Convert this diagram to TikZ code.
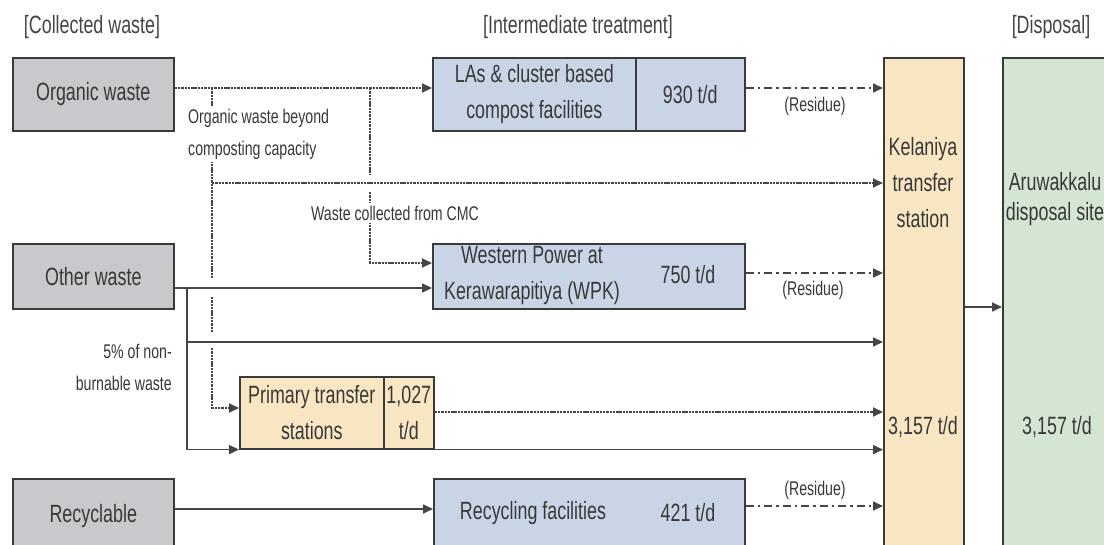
\documentclass[tikz,border=0pt]{standalone}
\usepackage{fontspec}
\setmainfont{Liberation Sans}[FakeStretch=0.715]
\usetikzlibrary{arrows.meta,calc}

\definecolor{ink}{HTML}{383838}
\definecolor{headink}{HTML}{444444}
\definecolor{edge}{HTML}{3A3A3A}
\definecolor{wire}{HTML}{454545}
\definecolor{grayfill}{HTML}{C8C9CC}
\definecolor{bluefill}{HTML}{C9D5E7}
\definecolor{sandfill}{HTML}{F9E7C4}
\definecolor{mintfill}{HTML}{D5E5D3}

\newcommand\bigtxt{\fontsize{25}{36}\selectfont}
\newcommand\smalltxt{\fontsize{19.8}{32}\selectfont}

\begin{document}
\begin{tikzpicture}[x=1pt,y=-1pt,
  box/.style={draw=edge, line width=1.6pt, inner sep=0pt, anchor=north west,
              font=\bigtxt, text=ink, align=center},
  wastebox/.style={box, fill=grayfill},
  treatbox/.style={box, fill=bluefill},
  stationbox/.style={box, fill=sandfill},
  sitebox/.style={box, fill=mintfill},
  boxtext/.style={font=\bigtxt, text=ink, align=center, inner sep=0pt},
  heading/.style={font=\bigtxt, text=headink, inner sep=0pt},
  note/.style={font=\smalltxt, text=ink, inner sep=3pt},
  tip/.style={-{Triangle[length=10pt,width=9pt]}},
  flow/.style={draw=wire, line width=1.7pt},
  fine/.style={flow, line width=1.8pt, dash pattern=on 2.4pt off 0.9pt},
  residue/.style={flow, dash pattern=on 8pt off 4pt on 2.5pt off 4pt},
]
\clip (0,0) rectangle (1104,545);

% column headings
\node[heading] (hCollected) at (92,27) {[Collected waste]};
\node[heading] (hInter) at (578,27) {[Intermediate treatment]};
\node[heading] (hDisp) at (1051,27) {[Disposal]};

% collected waste
\node[wastebox, minimum width=161pt, minimum height=73pt] (organic) at (12,57) {Organic waste};
\node[wastebox, minimum width=161pt, minimum height=65pt] (other) at (12,243) {Other waste};
\node[wastebox, minimum width=161pt, minimum height=75pt] (recyclable) at (12,478) {Recyclable};

% intermediate treatment
\node[treatbox, minimum width=203pt, minimum height=73pt] (lasA) at (432,57) {LAs \& cluster based\\compost facilities};
\node[treatbox, minimum width=109pt, minimum height=73pt] (lasB) at (635,57) {930 t/d};
\node[treatbox, minimum width=312pt, minimum height=65pt] (wp) at (432,243) {};
\node[boxtext] (wpName) at (532,275) {Western Power at\\Kerawarapitiya (WPK)};
\node[boxtext] (wpRate) at (688,275) {750 t/d};
\node[stationbox, minimum width=144pt, minimum height=72pt] (primaryA) at (239,376) {Primary transfer\\stations};
\node[stationbox, minimum width=50pt, minimum height=72pt] (primaryB) at (383,376) {1,027\\t/d};
\node[treatbox, minimum width=311pt, minimum height=75pt] (recycling) at (433,478) {};
\node[boxtext] (recName) at (533,513) {Recycling facilities};
\node[boxtext] (recRate) at (688,513) {421 t/d};

% transfer and disposal
\node[stationbox, minimum width=80pt, minimum height=500pt] (kelaniya) at (883,57) {};
\node[boxtext] (kelName) at (923,183) {Kelaniya\\transfer\\station};
\node[boxtext] (kelRate) at (923,427) {3,157 t/d};
\node[sitebox, minimum width=106pt, minimum height=500pt] (aruwakkalu) at (1002,57) {};
\node[boxtext, font=\fontsize{25}{30}\selectfont] (aruName) at (1055,199) {Aruwakkalu\\disposal site};
\node[boxtext] (aruRate) at (1057,427) {3,157 t/d};

% flow levels and junctions
\coordinate (lvA) at (0,88);
\coordinate (lvB) at (0,183);
\coordinate (lvC) at (0,263);
\coordinate (lvW) at (0,273);
\coordinate (lvD) at (0,288);
\coordinate (lvK) at (0,307);
\coordinate (lvE) at (0,342);
\coordinate (lvP) at (0,408);
\coordinate (lvF) at (0,412);
\coordinate (lvI) at (0,506);
\coordinate (lvH) at (0,509);
\coordinate (jv1) at (212,88);
\coordinate (jv2) at (370,88);
\coordinate (jo) at (187,288);

% organic waste
\draw[fine, tip] (organic.east |- lvA) -- (lasA.west |- lvA);
\draw[fine] (jv1) -- ++(0,190);
\draw[fine] (jv1) ++(0,209) -- ++(0,36);
\draw[fine, tip] (jv1) ++(0,260) -- (jv1 |- lvP) -- (primaryA.west |- lvP);
\draw[fine, tip] (jv1 |- lvB) -- (kelaniya.west |- lvB);
\draw[fine] (jv2) -- ++(0,86);
\draw[fine, tip] (jv2) ++(0,104) -- (jv2 |- lvC) -- (wp.west |- lvC);

% other waste
\draw[flow, tip] (other.east |- lvD) -- (wp.west |- lvD);
\draw[flow, tip] (jo) -- (jo |- primaryA.south west) -- (primaryA.south west);
\draw[flow, tip] (primaryB.south east) -- (kelaniya.west |- primaryB.south east);
\draw[flow, tip] (jo |- lvE) -- (kelaniya.west |- lvE);
\draw[fine, tip] (primaryB.east |- lvF) -- (kelaniya.west |- lvF);

% recyclables
\draw[flow, tip] (recyclable.east |- lvH) -- (recycling.west |- lvH);

% residues
\draw[residue, tip] (lasB.east |- lvA) -- (kelaniya.west |- lvA);
\draw[residue, tip] (wp.east |- lvW) -- (kelaniya.west |- lvW);
\draw[residue, tip] (recycling.east |- lvI) -- (kelaniya.west |- lvI);

% to disposal
\draw[flow, tip] (kelaniya.east |- lvK) -- (aruwakkalu.west |- lvK);

% notes
\node[note, fill=white, anchor=west, align=left] (beyond) at (185,134) {Organic waste beyond\\composting capacity};
\node[note, fill=white] (cmc) at (395,213) {Waste collected from CMC};
\node[note, anchor=east, align=right] (nonburn) at (175,367.5) {5\% of non-\\burnable waste};
\node[note] (res1) at (815,106) {(Residue)};
\node[note] (res2) at (813,290) {(Residue)};
\node[note] (res3) at (815,490) {(Residue)};
\end{tikzpicture}
\end{document}
